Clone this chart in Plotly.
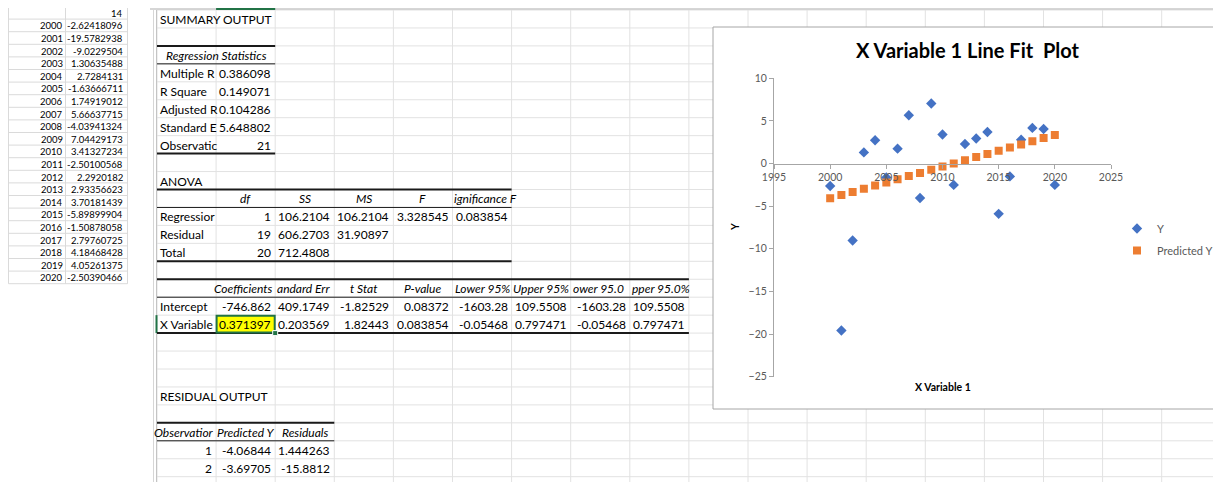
import plotly.graph_objects as go

# ---------------- data ----------------
years = [2000, 2001, 2002, 2003, 2004, 2005, 2006, 2007, 2008, 2009, 2010,
         2011, 2012, 2013, 2014, 2015, 2016, 2017, 2018, 2019, 2020]
y_obs = [-2.62418096, -19.5782938, -9.0229504, 1.30635488, 2.7284131, -1.63666711,
         1.74919012, 5.66637715, -4.03941324, 7.04429173, 3.41327234, -2.50100568,
         2.2920182, 2.93356623, 3.70181439, -5.89899904, -1.50878058, 2.79760725,
         4.18468428, 4.05261375, -2.50390466]
y_pred = [-4.06844, -3.69705, -3.32565, -2.95425, -2.58285, -2.21146, -1.84006,
          -1.46866, -1.09727, -0.72587, -0.35447, 0.01692, 0.38832, 0.75972,
          1.13111, 1.50251, 1.87391, 2.24530, 2.61670, 2.98810, 3.35949]
left_header = "14"

reg_stat_labels = ["Multiple R", "R Square", "Adjusted R", "Standard E", "Observatic"]
reg_stat_values = ["0.386098", "0.149071", "0.104286", "5.648802", "21"]

anova_headers = ["df", "SS", "MS", "F"]
anova_sigf_header = "ignificance F"
anova_rows = [["Regressior", "1", "106.2104", "106.2104", "3.328545", "0.083854"],
              ["Residual", "19", "606.2703", "31.90897"],
              ["Total", "20", "712.4808"]]

coef_headers = ["t Stat", "P-value", "Lower 95%", "Upper 95%"]
coef_rows = [["Intercept", "-746.862", "409.1749", "-1.82529", "0.08372", "-1603.28",
              "109.5508", "-1603.28", "109.5508"],
             ["X Variable", "0.371397", "0.203569", "1.82443", "0.083854", "-0.05468",
              "0.797471", "-0.05468", "0.797471"]]

resid_headers = ["Observatior", "Predicted Y", "Residuals"]
resid_rows = [["1", "-4.06844", "1.444263"],
              ["2", "-3.69705", "-15.8812"],
              ["3", "-3.32565", "-5.6973"]]

# ---------------- geometry helpers ----------------
# the page body has an 8px margin; the figure is sized to fill the rest of the window
OFF = 8
W, H = 1221 - OFF, 482 - OFF
ROW0, RH = 10.0, 17.95
COL0, CW = 157.0, 59.1
FONT = "Lato"
FS = 12


def X(p):
    return (p - OFF) / W


def Y(p):
    return 1 - (p - OFF) / H


def rowc(r):
    return ROW0 + RH * (r + 0.5)


def rowy(k):
    return ROW0 + RH * k


def colx(c):
    return COL0 + CW * c


shapes = []
annotations = []


def line(x0, y0, x1, y1, color, width=1):
    shapes.append(dict(type="line", xref="paper", yref="paper", x0=X(x0), y0=Y(y0),
                       x1=X(x1), y1=Y(y1), line=dict(color=color, width=width),
                       layer="below"))


def rect(x0, y0, x1, y1, fill, lc=None, lw=0):
    shapes.append(dict(type="rect", xref="paper", yref="paper", x0=X(x0), y0=Y(y0),
                       x1=X(x1), y1=Y(y1), fillcolor=fill,
                       line=dict(color=lc or fill, width=lw), layer="below"))


def text(x, y, s, anchor="left", size=FS, color="#000000", bold=False, italic=False):
    if italic:
        s = "<i>" + s + "</i>"
    if bold:
        s = "<b>" + s + "</b>"
    annotations.append(dict(xref="paper", yref="paper", x=X(x), y=Y(y), text=s,
                            showarrow=False, xanchor=anchor, yanchor="middle",
                            font=dict(family=FONT, size=size, color=color),
                            borderpad=0))


def cell(r, c, s, align="left", italic=False):
    y = rowc(r) + 0.5
    if align == "left":
        text(colx(c) + 2, y, s, "left", italic=italic)
    elif align == "right":
        text(colx(c + 1) - 3, y, s, "right", italic=italic)
    else:
        text(colx(c) + CW / 2, y, s, "center", italic=italic)


# ---------------- spreadsheet grid ----------------
GRID = "#e2e2e2"
for k in range(27):
    line(COL0, rowy(k), 1230, rowy(k), GRID)
for c in range(19):
    line(colx(c), ROW0, colx(c), 490, GRID)

# column header bottom edge + gutter
line(150, 9, 1230, 9, "#c8c8c8", 1.5)
line(colx(1), 9, colx(2), 9, "#217346", 2)
line(153.5, ROW0, 153.5, 490, "#d6d6d6", 1)
line(156.5, ROW0, 156.5, 490, "#c4c4c4", 1)
line(156.5, rowy(17), 156.5, rowy(18), "#217346", 2)

# table borders
BLK = "#1a1a1a"
line(COL0, rowy(2), colx(2), rowy(2), BLK, 2)
line(COL0, rowy(3), colx(2), rowy(3), BLK, 1)
line(COL0, rowy(8), colx(2), rowy(8), BLK, 2)
line(COL0, rowy(10), colx(6), rowy(10), BLK, 2)
line(COL0, rowy(11), colx(6), rowy(11), BLK, 1)
line(COL0, rowy(14), colx(6), rowy(14), BLK, 2)
line(COL0, rowy(15), colx(9), rowy(15), BLK, 2)
line(COL0, rowy(16), colx(9), rowy(16), BLK, 1)
line(COL0, rowy(18), colx(9), rowy(18), BLK, 2)
line(COL0, rowy(23), colx(3), rowy(23), BLK, 2)
line(COL0, rowy(24), colx(3), rowy(24), BLK, 1)

# selected cell
rect(colx(1) + 0.5, rowy(17) + 0.5, colx(2) - 0.5, rowy(18) - 0.5, "#ffff00", "#217346", 2)
rect(colx(2) - 2.5, rowy(18) - 2.5, colx(2) + 2.5, rowy(18) + 2.5, "#217346", "#ffffff", 1)

# ---------------- spreadsheet text ----------------
cell(0, 0, "SUMMARY OUTPUT")
text(colx(1), rowc(2) + 0.5, "Regression Statistics", "center", italic=True)
for i, (lab, val) in enumerate(zip(reg_stat_labels, reg_stat_values)):
    cell(3 + i, 0, lab)
    cell(3 + i, 1, val, "right")

cell(9, 0, "ANOVA")
for i, h in enumerate(anova_headers):
    cell(10, 1 + i, h, "center", italic=True)
text(colx(6) + 6, rowc(10) + 0.5, anova_sigf_header, "right", italic=True)
for i, row in enumerate(anova_rows):
    cell(11 + i, 0, row[0])
    for j, v in enumerate(row[1:]):
        cell(11 + i, 1 + j, v, "right")

text(colx(2) - 1, rowc(15) + 0.5, "Coefficients", "right", italic=True)
text(colx(2) + 1, rowc(15) + 0.5, "andard Err", "left", italic=True)
for i, h in enumerate(coef_headers):
    cell(15, 3 + i, h, "center", italic=True)
text(colx(7) + 1, rowc(15) + 0.5, "ower 95.0", "left", italic=True)
text(colx(8) + 1, rowc(15) + 0.5, "pper 95.0%", "left", italic=True)
for i, row in enumerate(coef_rows):
    cell(16 + i, 0, row[0])
    for j, v in enumerate(row[1:]):
        cell(16 + i, 1 + j, v, "right")

cell(21, 0, "RESIDUAL OUTPUT")
text(colx(1) - 1, rowc(23) + 0.5, resid_headers[0], "right", italic=True)
cell(23, 1, resid_headers[1], "center", italic=True)
cell(23, 2, resid_headers[2], "center", italic=True)
for i, row in enumerate(resid_rows):
    for j, v in enumerate(row):
        cell(24 + i, j, v, "right")

# ---------------- left pasted data table ----------------
LT_Y0, LT_RH = 6.5, 12.6
LT_X0, LT_X1, LT_X2 = 8.5, 65.5, 127.5
n_lt = len(years) + 1
for k in range(n_lt + 1):
    line(LT_X0, LT_Y0 + LT_RH * k, LT_X2, LT_Y0 + LT_RH * k, "#dadada")
line(LT_X0, LT_Y0, LT_X0, LT_Y0 + LT_RH * n_lt, "#dadada")
line(LT_X1, LT_Y0, LT_X1, LT_Y0 + LT_RH * n_lt, "#dadada")
line(LT_X2, LT_Y0, LT_X2, LT_Y0 + LT_RH * n_lt, "#dadada")
text(LT_X2 - 3, LT_Y0 + LT_RH * 0.5 + 0.5, left_header, "right", size=9.5)
for i, (yr, v) in enumerate(zip(years, y_obs)):
    yc = LT_Y0 + LT_RH * (i + 1.5) + 0.5
    text(LT_X1 - 2, yc, str(yr), "right", size=9.5)
    text(LT_X2 - 3, yc, str(v), "right", size=9.5)

# ---------------- chart box ----------------
rect(713, 27, 1240, 409, "#ffffff", "#a6a6a6", 1)

text(967, 50, "X Variable 1 Line Fit\u00a0 Plot", "center", size=20, bold=True)
text(943, 387, "X Variable 1", "center", size=10.5, bold=True)
annotations.append(dict(xref="paper", yref="paper", x=X(735), y=Y(227), text="<b>Y</b>",
                        showarrow=False, textangle=-90, xanchor="center", yanchor="middle",
                        font=dict(family=FONT, size=10.5, color="#000000")))

# ---------------- chart ----------------
fig = go.Figure()
fig.add_trace(go.Scatter(x=years, y=y_obs, mode="markers", name="Y", legendgroup="a",
                         marker=dict(symbol="diamond", size=8, color="#4472C4",
                                     line=dict(width=0))))
fig.add_trace(go.Scatter(x=years, y=y_pred, mode="markers", name="Predicted Y",
                         legendgroup="b",
                         marker=dict(symbol="square", size=8, color="#ED7D31",
                                     line=dict(width=0))))

PX_L, PX_R = 774, 1111
PY_T, PY_B = 78.3, 376.7
y_min, y_max = -25, 10
zero_py = PY_T + (y_max - 0) / (y_max - y_min) * (PY_B - PY_T)

AX = "#a6a6a6"
TICKFONT = dict(family=FONT, size=10.5, color="#595959")
fig.update_layout(
    width=W, height=H, autosize=False,
    margin=dict(l=0, r=0, t=0, b=0, pad=0, autoexpand=False),
    paper_bgcolor="#ffffff", plot_bgcolor="rgba(0,0,0,0)",
    shapes=shapes, annotations=annotations,
    showlegend=True,
    legend=dict(x=X(1117), y=Y(214), xanchor="left", yanchor="top",
                bgcolor="rgba(0,0,0,0)", font=dict(family=FONT, size=11, color="#595959"),
                itemwidth=30, traceorder="grouped", tracegroupgap=3),
    xaxis=dict(domain=[X(PX_L), X(PX_R)], range=[1995, 2025], dtick=5, tick0=1995,
               anchor="free", position=Y(zero_py), showline=True, linecolor=AX,
               linewidth=1, ticks="outside", ticklen=4, tickcolor=AX, showgrid=False,
               zeroline=False, tickfont=TICKFONT, fixedrange=True, automargin=False),
    yaxis=dict(domain=[Y(PY_B), Y(PY_T)], range=[y_min, y_max], dtick=5, tick0=0,
               showline=True, linecolor=AX, linewidth=1, ticks="outside", ticklen=4,
               tickcolor=AX, showgrid=False, zeroline=False, tickfont=TICKFONT,
               fixedrange=True, automargin=False),
)

fig.write_html("out.html")
